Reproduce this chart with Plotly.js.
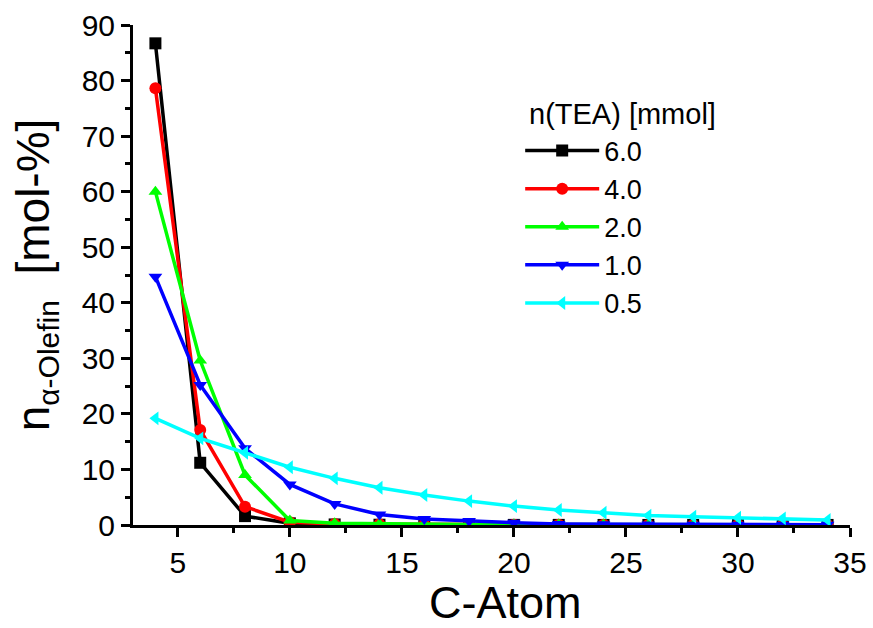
<!DOCTYPE html>
<html>
<head>
<meta charset="utf-8">
<script src="https://cdn.plot.ly/plotly-3.0.1.min.js"></script>
<style>html,body{margin:0;padding:0;background:#fff;}#chart{width:873px;height:628px;}</style>
</head>
<body>
<div id="chart"></div>
<script>
const cAtoms = [4, 6, 8, 10, 12, 14, 16, 18, 20, 22, 24, 26, 28, 30, 32, 34];
const tea60 = [86.7, 11.2, 1.6, 0.3, 0.1, 0.05, 0.05, 0.03, 0.02, 0.02, 0.01, 0.01, 0.01, 0.01, 0.01, 0.01];
const tea40 = [78.6, 17.1, 3.3, 0.5, 0.2, 0.15, 0.1, 0.05, 0.05, 0.03, 0.03, 0.02, 0.02, 0.02, 0.01, 0.01];
const tea20 = [60.0, 29.6, 9.0, 0.8, 0.3, 0.2, 0.15, 0.1, 0.1, 0.1, 0.1, 0.05, 0.05, 0.05, 0.03, 0.03];
const tea10 = [44.7, 25.2, 13.8, 7.3, 3.8, 1.9, 1.1, 0.7, 0.4, 0.2, 0.15, 0.1, 0.05, 0.05, 0.05, 0.05];
const tea05 = [19.2, 15.6, 13.0, 10.4, 8.4, 6.7, 5.4, 4.3, 3.4, 2.7, 2.2, 1.7, 1.5, 1.3, 1.2, 0.9];
const seriesNames = ["6.0", "4.0", "2.0", "1.0", "0.5"];
const seriesValues = [tea60, tea40, tea20, tea10, tea05];
const seriesColors = ["#000000", "#ff0000", "#00ff00", "#0000ff", "#00ffff"];
const seriesSymbols = ["square", "circle", "triangle-up", "triangle-down", "triangle-left"];
const xTicks = [5, 10, 15, 20, 25, 30, 35];
const yTicks = [0, 10, 20, 30, 40, 50, 60, 70, 80, 90];
const legendTitle = "n(TEA) [mmol]";
const xTitle = "C-Atom";

const font = "Arial, 'Liberation Sans', sans-serif";
const traces = seriesValues.map((vals, i) => ({
  x: cAtoms, y: vals, name: seriesNames[i], type: "scatter", mode: "lines+markers",
  line: {color: seriesColors[i], width: 3.5},
  marker: {color: seriesColors[i], symbol: seriesSymbols[i], size: 12}
}));

const layout = {
  width: 873, height: 628,
  margin: {l: 133, r: 23, t: 25, b: 103},
  paper_bgcolor: "#fff", plot_bgcolor: "#fff",
  showlegend: true,
  font: {family: font, color: "#000"},
  legend: {
    x: 0.54, y: 0.797, xanchor: "left", yanchor: "top",
    bgcolor: "rgba(0,0,0,0)", font: {size: 27, family: font},
    itemwidth: 74, tracegroupgap: 0
  },
  annotations: [{
    text: legendTitle, xref: "paper", yref: "paper", x: 0.5495, y: 0.822,
    xanchor: "left", yanchor: "middle", showarrow: false,
    font: {size: 29, family: font, color: "#000"}
  }, {
    text: xTitle, xref: "paper", yref: "paper", x: 0.519, y: -0.154,
    xanchor: "center", yanchor: "middle", showarrow: false,
    font: {size: 45, family: font, color: "#000"}
  }],
  xaxis: {
    range: [3, 35], showgrid: false, zeroline: false,
    showline: true, linewidth: 3, linecolor: "#000",
    ticks: "outside", ticklen: 9, tickwidth: 3, tickcolor: "#000",
    tickmode: "array", tickvals: xTicks,
    minor: {tickvals: [7.5, 12.5, 17.5, 22.5, 27.5, 32.5], ticks: "outside", ticklen: 5, tickwidth: 3, tickcolor: "#000"},
    tickfont: {size: 30, family: font}
  },
  yaxis: {
    range: [0, 90], showgrid: false, zeroline: false,
    showline: true, linewidth: 3, linecolor: "#000",
    ticks: "outside", ticklen: 9, tickwidth: 3, tickcolor: "#000",
    tickmode: "array", tickvals: yTicks,
    minor: {tickvals: [5, 15, 25, 35, 45, 55, 65, 75, 85], ticks: "outside", ticklen: 5, tickwidth: 3, tickcolor: "#000"},
    tickfont: {size: 30, family: font},
    title: {text: "n<sub><span style=\"font-size:30px\">α-Olefin</span></sub>\u00a0\u00a0[mol-%]", font: {size: 46, family: font}, standoff: 18}
  }
};

Plotly.newPlot("chart", traces, layout, {displayModeBar: false, staticPlot: true});
</script>
</body>
</html>
